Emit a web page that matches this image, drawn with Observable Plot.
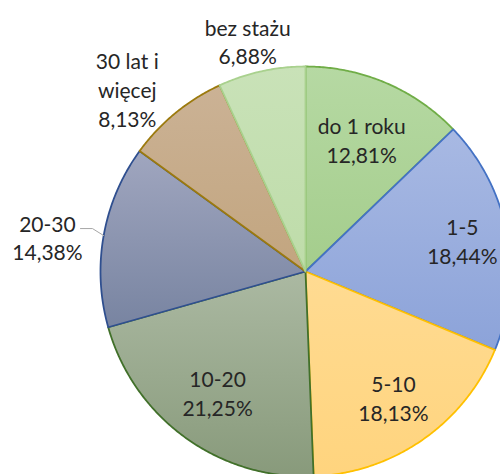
<!DOCTYPE html>
<html><head><meta charset="utf-8">
<script src="https://cdn.jsdelivr.net/npm/d3@7"></script>
<script src="https://cdn.jsdelivr.net/npm/@observablehq/plot@0.6"></script>
<style>body{margin:0;background:#fff;overflow:hidden} svg{display:block}</style>
</head><body><div id="chart"></div>
<script>
// data
const categories = ["do 1 roku", "1-5", "5-10", "10-20", "20-30", "30 lat i więcej", "bez stażu"];
const shares = [12.81, 18.44, 18.13, 21.25, 14.38, 8.13, 6.88];

// styles
const fillTop    = ["#b6d9a3", "#a8b9e3", "#ffdb92", "#abb9a2", "#a0a6bf", "#cbb295", "#c9e2b8"];
const fillBottom = ["#a4cd8c", "#8ca3d9", "#ffd47e", "#889a7b", "#7884a1", "#c2a57f", "#bedca9"];
const strokes    = ["#70ad47", "#4472c4", "#ffc000", "#41702a", "#2f4f8f", "#9c7a0e", "#a9d18e"];
const labelRadius = [0.70, 0.78, 0.75, 0.73, 1.27, 1.245, 1.16];
const labelTurn   = [0, -0.5, 0, 0, -2.5, -4.9, -1.7]; // degrees

const W = 500, H = 474, R = 205, cx = 305, cy = 271;
const total = d3.sum(shares);
let acc = 0;
const slices = shares.map((v, i) => {
  const a0 = acc / total * 2 * Math.PI; acc += v;
  const a1 = acc / total * 2 * Math.PI;
  return {i, cat: categories[i], v, a0, a1, mid: (a0 + a1) / 2};
});
const polys = slices.map(s => {
  const pts = [{x: 0, y: 0}];
  const n = Math.max(2, Math.ceil((s.a1 - s.a0) / (Math.PI / 360)));
  for (let k = 0; k <= n; k++) {
    const a = s.a0 + (s.a1 - s.a0) * k / n;
    pts.push({x: Math.sin(a), y: Math.cos(a)});
  }
  pts.push({x: 0, y: 0});
  return pts;
});
const fmt = v => v.toFixed(2).replace(".", ",") + "%";
const labels = slices.map(s => {
  const a = s.mid + labelTurn[s.i] * Math.PI / 180;
  const r = labelRadius[s.i];
  return {x: r * Math.sin(a), y: r * Math.cos(a), text: s.cat + "\n" + fmt(s.v)};
});
// leader line for 20-30
const s4 = slices[4];
const p0 = {x: Math.sin(s4.mid), y: Math.cos(s4.mid)};
const p1 = {x: 1.06 * Math.sin(s4.mid + 1.3 * Math.PI / 180), y: 1.06 * Math.cos(s4.mid + 1.3 * Math.PI / 180)};
const p2 = {x: p1.x - 12 / R, y: p1.y};

const marks = polys.map((pts, i) => Plot.line(pts, {
  x: "x", y: "y", fill: `url(#g${i})`, stroke: strokes[i], strokeWidth: 1.8, strokeLinejoin: "round"
}));
marks.push(Plot.line([p0, p1, p2], {x: "x", y: "y", stroke: "#a6a6a6", strokeWidth: 1}));
marks.push(Plot.text(labels, {
  x: "x", y: "y", text: "text", fontSize: 21, lineHeight: 1.36, lineWidth: 5.2,
  fill: "#262626", fontFamily: "Lato"
}));

const svg = Plot.plot({
  width: W, height: H, margin: 0,
  x: {domain: [-cx / R, (W - cx) / R], axis: null},
  y: {domain: [-(H - cy) / R, cy / R], axis: null},
  style: {fontFamily: "Lato", background: "#fff", overflow: "hidden"},
  marks
});
const ns = "http://www.w3.org/2000/svg";
const defs = document.createElementNS(ns, "defs");
slices.forEach((s, i) => {
  const g = document.createElementNS(ns, "linearGradient");
  g.setAttribute("id", `g${i}`);
  g.setAttribute("x1", "0"); g.setAttribute("y1", "0");
  g.setAttribute("x2", "0"); g.setAttribute("y2", "1");
  [[0, fillTop[i]], [1, fillBottom[i]]].forEach(([o, c]) => {
    const st = document.createElementNS(ns, "stop");
    st.setAttribute("offset", o); st.setAttribute("stop-color", c);
    g.appendChild(st);
  });
  defs.appendChild(g);
});
svg.insertBefore(defs, svg.firstChild);
document.getElementById("chart").appendChild(svg);
</script>
</body></html>
